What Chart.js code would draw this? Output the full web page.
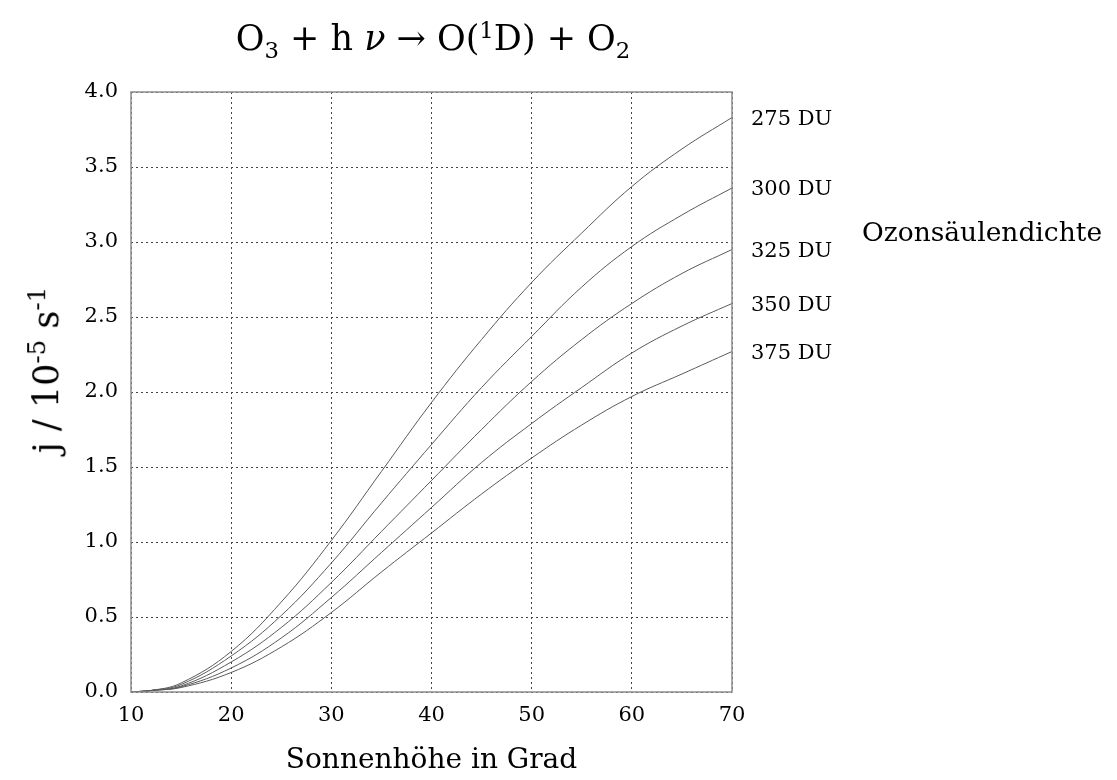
<!DOCTYPE html>
<html>
<head>
<meta charset="utf-8">
<script src="https://cdn.jsdelivr.net/npm/chart.js@4/dist/chart.umd.min.js"></script>
<style>
  html, body { margin: 0; padding: 0; background: #fff; }
  #wrap { position: relative; width: 1117px; height: 780px; font-family: "DejaVu Serif", serif; color: #000; }
  #chart { position: absolute; left: 0; top: 0; }
  .txt { position: absolute; white-space: nowrap; }
  #title { left: 433px; top: 40px; transform: translate(-50%, -50%); font-size: 35px; }
  #ytitle { left: 44px; top: 370px; transform: translate(-50%, -50%) rotate(-90deg); font-size: 35px; }
  #ytitle sup { font-size: 70%; }
  #legendTitle { left: 862px; top: 231px; transform: translateY(-50%); font-size: 26.5px; }
  sub, sup { font-size: 65%; }
</style>
</head>
<body>
<div id="wrap">
  <canvas id="chart" width="1117" height="780"></canvas>
  <div class="txt" id="title">O<sub>3</sub> + h <i>ν</i> → O(<sup>1</sup>D) + O<sub>2</sub></div>
  <div class="txt" id="ytitle">j / 10<sup>-5</sup> s<sup>-1</sup></div>
  <div class="txt" id="legendTitle">Ozonsäulendichte</div>
</div>
<script>
// Sonnenhöhe (Grad)
const elevation = [10, 12, 15, 20, 25, 30, 35, 40, 45, 50, 55, 60, 65, 70];

// Photolyse-Frequenz j in 10^-5 s^-1 je Ozonsäule
const du275 = [0, 0.01, 0.06, 0.27, 0.60, 1.01, 1.47, 1.93, 2.35, 2.73, 3.06, 3.37, 3.62, 3.83];
const du300 = [0, 0.01, 0.05, 0.24, 0.51, 0.86, 1.26, 1.65, 2.03, 2.37, 2.70, 2.97, 3.18, 3.36];
const du325 = [0, 0.01, 0.04, 0.20, 0.43, 0.73, 1.07, 1.41, 1.75, 2.07, 2.35, 2.59, 2.79, 2.95];
const du350 = [0, 0.01, 0.035, 0.16, 0.36, 0.63, 0.93, 1.23, 1.53, 1.79, 2.03, 2.26, 2.44, 2.59];
const du375 = [0, 0.01, 0.03, 0.13, 0.30, 0.53, 0.80, 1.06, 1.32, 1.56, 1.78, 1.97, 2.12, 2.27];

const seriesLabels = ["275 DU", "300 DU", "325 DU", "350 DU", "375 DU"];
const seriesValues = [du275, du300, du325, du350, du375];

const xTicks = [10, 20, 30, 40, 50, 60, 70];
const yTicks = [0, 0.5, 1, 1.5, 2, 2.5, 3, 3.5, 4];

const lineColor = "#5a5a5a";

const datasets = seriesValues.map((vals, i) => ({
  label: seriesLabels[i],
  data: elevation.map((x, k) => ({ x: x, y: vals[k] })),
  borderColor: lineColor,
  borderWidth: 1,
  pointRadius: 0,
  fill: false,
  tension: 0.4
}));

// Rahmen + Beschriftung der Kurven am rechten Rand
const framePlugin = {
  id: "frame",
  afterDatasetsDraw(chart) {
    const { ctx, chartArea, scales } = chart;
    ctx.save();
    ctx.strokeStyle = "#8c8c8c";
    ctx.lineWidth = 1.5;
    ctx.strokeRect(chartArea.left, chartArea.top, chartArea.right - chartArea.left, chartArea.bottom - chartArea.top);

    ctx.fillStyle = "#000";
    ctx.font = "21px 'DejaVu Serif'";
    ctx.textAlign = "left";
    ctx.textBaseline = "middle";
    seriesValues.forEach((vals, i) => {
      const y = scales.y.getPixelForValue(vals[vals.length - 1]);
      ctx.fillText(seriesLabels[i], chartArea.right + 19, y + 2);
    });
    ctx.restore();
  }
};

const config = {
  type: "line",
  data: { datasets: datasets },
  options: {
    responsive: false,
    animation: false,
    events: [],
    layout: { padding: { left: 0, top: 92, right: 385, bottom: 0 } },
    plugins: {
      legend: { display: false },
      tooltip: { enabled: false },
      title: { display: false }
    },
    scales: {
      x: {
        type: "linear",
        min: 10,
        max: 70,
        afterBuildTicks(scale) { scale.ticks = xTicks.map(v => ({ value: v })); },
        afterFit(scale) { scale.height = 88; },
        grid: {
          color: "#444",
          lineWidth: 1,
          drawTicks: false
        },
        border: { display: false, dash: [2, 3] },
        ticks: {
          color: "#000",
          font: { family: "DejaVu Serif", size: 21 },
          padding: 11,
          maxRotation: 0,
          callback: v => String(v)
        },
        title: {
          display: true,
          text: "Sonnenhöhe in Grad",
          color: "#000",
          font: { family: "DejaVu Serif", size: 28 },
          padding: { top: 0, bottom: 2 }
        }
      },
      y: {
        min: 0,
        max: 4,
        afterBuildTicks(scale) { scale.ticks = yTicks.map(v => ({ value: v })); },
        afterFit(scale) { scale.width = 131; },
        grid: {
          color: "#444",
          lineWidth: 1,
          drawTicks: false
        },
        border: { display: false, dash: [2, 3] },
        ticks: {
          color: "#000",
          font: { family: "DejaVu Serif", size: 21 },
          padding: 13,
          callback: v => v.toFixed(1)
        }
      }
    }
  },
  plugins: [framePlugin]
};

new Chart(document.getElementById("chart"), config);
</script>
</body>
</html>
